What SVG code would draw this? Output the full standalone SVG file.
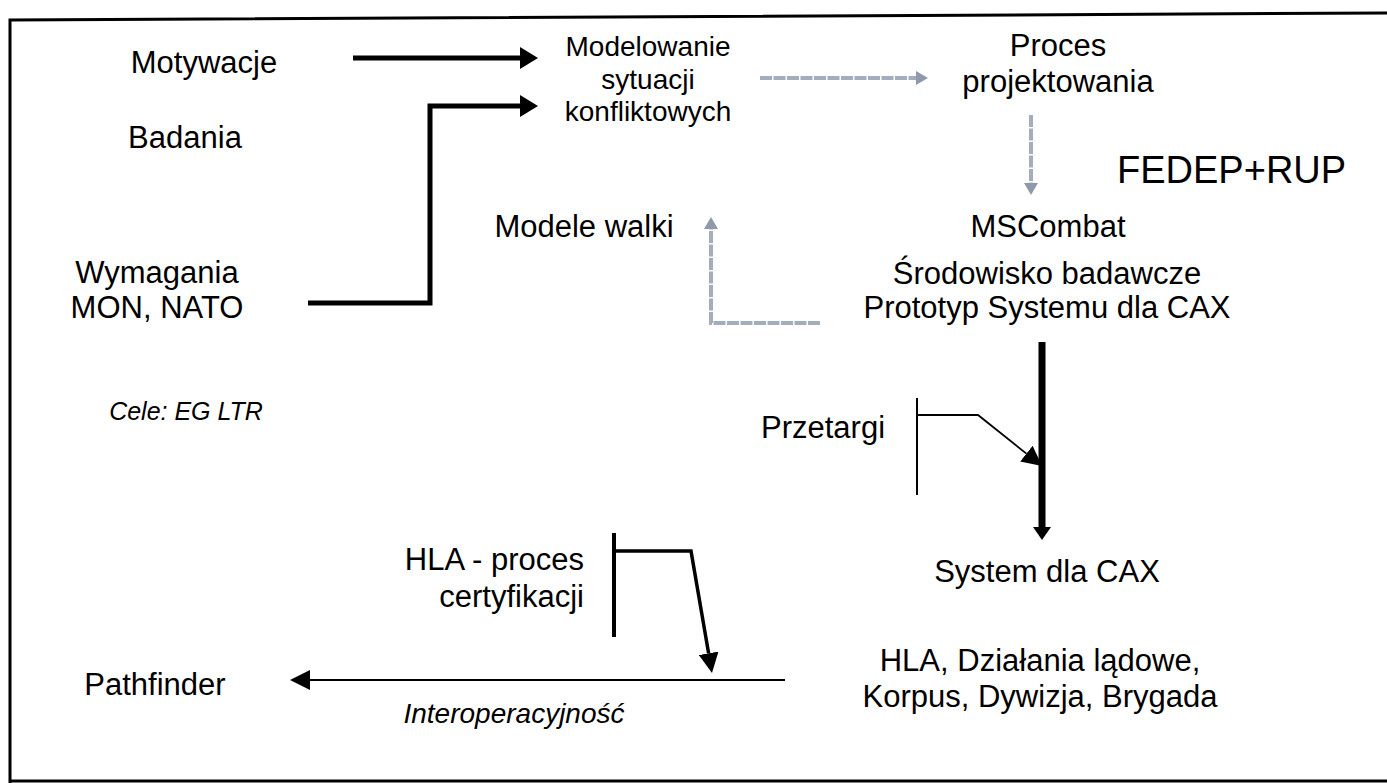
<svg xmlns="http://www.w3.org/2000/svg" width="1387" height="783" viewBox="0 0 1387 783">
<style>
text{font-family:"Liberation Sans",Arial,sans-serif;fill:#000;}
.t{font-size:31px;}
.s{font-size:28px;}
.i{font-style:italic;}
.c{text-anchor:middle;}
.e{text-anchor:end;}
.blk{fill:none;stroke:#000;stroke-linejoin:miter;}
.gry{fill:none;stroke:#a3adbc;stroke-width:4;stroke-dasharray:12 1.5;}
</style>
<defs>
<marker id="hBig" markerUnits="userSpaceOnUse" markerWidth="20" markerHeight="22" refX="0" refY="11" orient="auto"><path d="M0,0 L18,11 L0,22 z" fill="#000"/></marker>
<marker id="hMid" markerUnits="userSpaceOnUse" markerWidth="22" markerHeight="20" refX="0" refY="10" orient="auto"><path d="M0,0 L20,10 L0,20 z" fill="#000"/></marker>
<marker id="hSm" markerUnits="userSpaceOnUse" markerWidth="15" markerHeight="18" refX="0" refY="9" orient="auto"><path d="M0,0 L13,9 L0,18 z" fill="#000"/></marker>
<marker id="hG" markerUnits="userSpaceOnUse" markerWidth="14" markerHeight="16" refX="0" refY="8" orient="auto"><path d="M0,1 L12,8 L0,15 z" fill="#8e9aac"/></marker>
</defs>
<rect width="1387" height="783" fill="#fff"/>
<g id="frame" class="blk" stroke-width="3">
<path d="M10,783 L10,20 L1387,13"/>
<path d="M10,781 L1387,781"/>
</g>
<g id="connectors">
<path class="blk" stroke-width="5" d="M353,58 L520,58" marker-end="url(#hBig)"/>
<path class="blk" stroke-width="5" d="M308,303 L430,303 L430,106 L520,106" marker-end="url(#hBig)"/>
<path class="gry" d="M760,78 L916,78" marker-end="url(#hG)"/>
<path class="gry" d="M1031,115 L1031,183" marker-end="url(#hG)"/>
<path class="gry" d="M820,323 L711,323 L711,229" marker-end="url(#hG)"/>
<path class="blk" stroke-width="7" d="M1042,342 L1042,527" marker-end="url(#hSm)"/>
<path class="blk" stroke-width="2" d="M917,398 L917,495"/>
<path class="blk" stroke-width="1.8" d="M917,415 L978,415 L1026.4,453.6" marker-end="url(#hMid)"/>
<path class="blk" stroke-width="4" d="M614,533 L614,637"/>
<path class="blk" stroke-width="3.5" d="M614,551 L691,551 L708.6,653.3" marker-end="url(#hMid)"/>
<path class="blk" stroke-width="2" d="M785,680 L310,680" marker-end="url(#hMid)"/>
</g>
<g id="n-motywacje"><text class="t c" x="204" y="73">Motywacje</text></g>
<g id="n-badania"><text class="t c" x="185" y="148">Badania</text></g>
<g id="n-wymagania"><text class="t c" x="157" y="283">Wymagania</text><text class="t c" x="157" y="318">MON, NATO</text></g>
<g id="n-cele"><text class="i c" font-size="25" x="186" y="420">Cele: EG LTR</text></g>
<g id="n-modelowanie"><text class="s c" x="648" y="56">Modelowanie</text><text class="s c" x="648" y="89">sytuacji</text><text class="s c" x="648" y="121">konfliktowych</text></g>
<g id="n-proces"><text class="t c" x="1058" y="56">Proces</text><text class="t c" x="1058" y="92">projektowania</text></g>
<g id="n-fedep"><text font-size="38" x="1117" y="183">FEDEP+RUP</text></g>
<g id="n-modele"><text class="t c" x="584" y="237">Modele walki</text></g>
<g id="n-mscombat"><text class="t c" x="1048" y="237">MSCombat</text><text class="t c" x="1047" y="284">Środowisko badawcze</text><text class="t c" x="1047" y="318">Prototyp Systemu dla CAX</text></g>
<g id="n-przetargi"><text class="t c" x="823" y="438">Przetargi</text></g>
<g id="n-hla"><text class="t e" x="584" y="570">HLA - proces</text><text class="t e" x="584" y="607">certyfikacji</text></g>
<g id="n-system"><text class="t c" x="1047" y="582">System dla CAX</text></g>
<g id="n-hla2"><text class="t c" x="1040" y="671">HLA, Działania lądowe,</text><text class="t c" x="1040" y="707">Korpus, Dywizja, Brygada</text></g>
<g id="n-pathfinder"><text class="t c" x="155" y="695">Pathfinder</text></g>
<g id="n-interop"><text class="s i c" x="514" y="723">Interoperacyjność</text></g>
</svg>
